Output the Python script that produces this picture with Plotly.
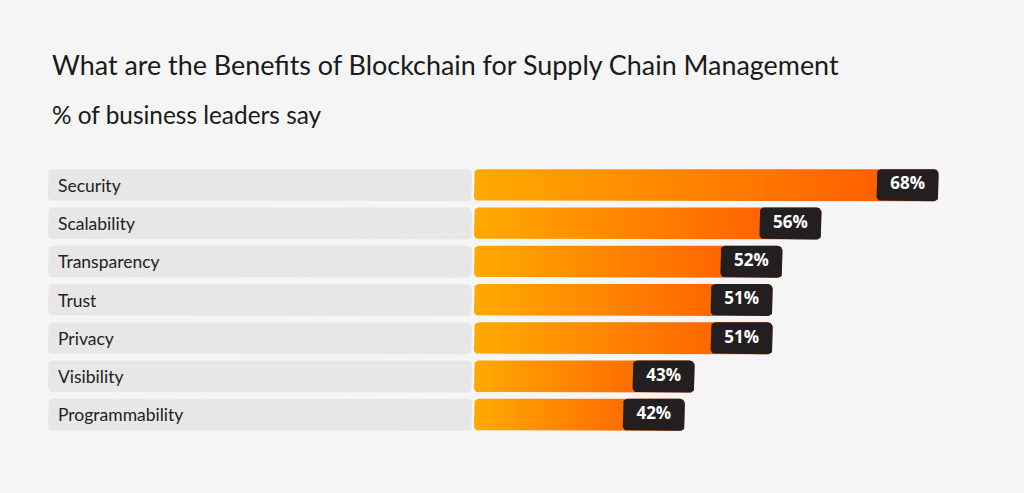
import math
import plotly.graph_objects as go

categories = ["Security", "Scalability", "Transparency", "Trust", "Privacy", "Visibility", "Programmability"]
values = [68, 56, 52, 51, 51, 43, 42]
value_labels = ["68%", "56%", "52%", "51%", "51%", "43%", "42%"]

TITLE = "What are the Benefits of Blockchain for Supply Chain Management"
SUBTITLE = "% of business leaders say"

W, H = 1024, 493
M_T, M_B = 166, 59
PLOT_H = H - M_T - M_B
START = 20.4          # axis value where orange bars begin
PX_PER_UNIT = 9.76
BOX_PX = 62
BOX_W = BOX_PX / PX_PER_UNIT
BAR_H = 0.835
X_END = START + (W - 474) / PX_PER_UNIT
GRAY_L, GRAY_R = 48, 472
RADIUS_PX = 5

BG = "#F4F5F4"
GRAY = "#E7E7E7"
DARK = "#231F20"
FONT = "Lato, 'Open Sans', sans-serif"

N = len(categories)
PX_PER_ROW = PLOT_H / N


def py(pixel_y):
    return (H - M_B - pixel_y) / PLOT_H


def rounded_rect(x0, x1, y0, y1, rx, ry, steps=6):
    xs, ys = [], []
    corners = [
        (x1 - rx, y0 + ry, -90, 0),
        (x1 - rx, y1 - ry, 0, 90),
        (x0 + rx, y1 - ry, 90, 180),
        (x0 + rx, y0 + ry, 180, 270),
    ]
    for cx, cy, a0, a1 in corners:
        for k in range(steps + 1):
            a = math.radians(a0 + (a1 - a0) * k / steps)
            xs.append(cx + rx * math.cos(a))
            ys.append(cy + ry * math.sin(a))
    xs.append(xs[0])
    ys.append(ys[0])
    return xs, ys


ry = RADIUS_PX / PX_PER_ROW
rx_main = RADIUS_PX / PX_PER_UNIT
rx_gray = RADIUS_PX / (GRAY_R - GRAY_L)

fig = go.Figure()

for i, c in enumerate(categories):
    y0, y1 = i - BAR_H / 2, i + BAR_H / 2
    xs, ys = rounded_rect(0, 1, y0, y1, rx_gray, ry)
    fig.add_trace(go.Scatter(
        x=xs, y=ys, mode="lines", fill="toself", fillcolor=GRAY, line=dict(width=0),
        xaxis="x2", yaxis="y", hoverinfo="skip", showlegend=False,
    ))

for i, v in enumerate(values):
    y0, y1 = i - BAR_H / 2, i + BAR_H / 2
    xs, ys = rounded_rect(START, v, y0, y1, rx_main, ry)
    fig.add_trace(go.Scatter(
        x=xs, y=ys, mode="lines", fill="toself", line=dict(width=0),
        fillgradient=dict(type="horizontal",
                          colorscale=[[0, "#FFAA00"], [1, "#FF5500"]]),
        xaxis="x", yaxis="y", hoverinfo="skip", showlegend=False,
    ))
    xs, ys = rounded_rect(v - BOX_W, v, y0, y1, rx_main, ry)
    fig.add_trace(go.Scatter(
        x=xs, y=ys, mode="lines", fill="toself", fillcolor=DARK, line=dict(width=0),
        xaxis="x3", yaxis="y", hoverinfo="skip", showlegend=False,
    ))

mids = [v - BOX_W / 2 for v in values]
fig.add_trace(go.Scatter(
    y=list(range(N)), x=mids, mode="text", text=value_labels,
    textposition="middle center",
    textfont=dict(color="white", size=17, family="'Open Sans', sans-serif", weight="bold"),
    xaxis="x3", yaxis="y", hoverinfo="skip", showlegend=False,
))

annotations = []
for i, c in enumerate(categories):
    annotations.append(dict(
        x=56 / W, xref="paper", y=i, yref="y", text=c, showarrow=False,
        xanchor="left", yanchor="middle",
        font=dict(family=FONT, size=17.5, color="#222222"),
    ))
annotations.append(dict(x=50 / W, y=py(65), xref="paper", yref="paper", text=TITLE,
                        showarrow=False, xanchor="left", yanchor="middle",
                        font=dict(family=FONT, size=26.9, color="#1A1A1A")))
annotations.append(dict(x=50 / W, y=py(115), xref="paper", yref="paper", text=SUBTITLE,
                        showarrow=False, xanchor="left", yanchor="middle",
                        font=dict(family=FONT, size=24.4, color="#1A1A1A")))

axis_common = dict(showgrid=False, zeroline=False, showticklabels=False, ticks="",
                   showline=False, fixedrange=True)
fig.update_layout(
    width=W, height=H,
    paper_bgcolor=BG, plot_bgcolor=BG,
    margin=dict(l=0, r=0, t=M_T, b=M_B),
    xaxis=dict(domain=[474 / W, 1], range=[START, X_END], **axis_common),
    xaxis2=dict(domain=[GRAY_L / W, GRAY_R / W], range=[0, 1], anchor="y", **axis_common),
    xaxis3=dict(overlaying="x", range=[START, X_END], anchor="y", **axis_common),
    yaxis=dict(range=[N - 0.5, -0.5], **axis_common),
    annotations=annotations,
    showlegend=False,
)

fig.write_html("out.html", config={"displayModeBar": False},
               post_script="document.body.style.margin='0';")
